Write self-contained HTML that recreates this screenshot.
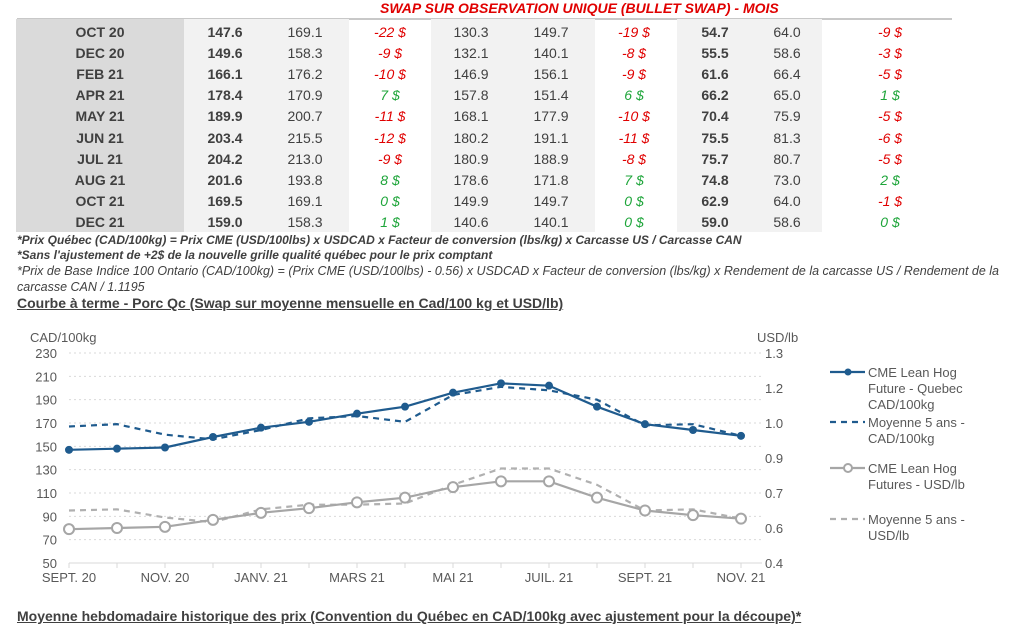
<!DOCTYPE html>
<html><head><meta charset="utf-8">
<style>
body{margin:0;width:1024px;height:634px;background:#fff;overflow:hidden;position:relative;font-family:"Liberation Sans Narrow","Liberation Sans",sans-serif;font-stretch:condensed;color:#404040}
.abs{position:absolute}
.title{left:380px;top:0;font-size:14px;font-weight:bold;font-style:italic;color:#e00000;white-space:nowrap}
.bg{position:absolute;top:19px;height:213px}
.row{position:absolute;left:0;width:1024px;height:21px;font-size:14px;line-height:21px}
.row span{position:absolute;transform:translateX(-50%);white-space:nowrap}
.b{font-weight:bold}
.r{color:#e00000;font-style:italic}
.g{color:#1ea53a;font-style:italic}
.note{position:absolute;left:17px;font-size:12.5px;font-style:italic;white-space:nowrap;color:#404040}
.h{position:absolute;left:17px;font-size:14px;font-weight:bold;text-decoration:underline;color:#404040;white-space:nowrap}
svg text{font-family:"Liberation Sans Narrow","Liberation Sans",sans-serif}
</style></head><body>
<div class="abs title">SWAP SUR OBSERVATION UNIQUE (BULLET SWAP) - MOIS</div>
<div class="abs" style="left:17px;top:18px;width:935px;height:2px;background:#c8c8c8"></div>
<div class="bg" style="left:16px;width:168px;background:#dadada"></div>
<div class="bg" style="left:184px;width:165px;background:#f2f2f2"></div>
<div class="bg" style="left:431px;width:164px;background:#f2f2f2"></div>
<div class="bg" style="left:677px;width:145px;background:#f2f2f2"></div>
<div id="tbl"></div>

<div class="note" style="top:233px;font-weight:bold;font-size:12px">*Prix Québec (CAD/100kg) = Prix CME (USD/100lbs) x USDCAD x Facteur de conversion (lbs/kg) x Carcasse US / Carcasse CAN</div>
<div class="note" style="top:248px;font-weight:bold;font-size:12px">*Sans l'ajustement de +2$ de la nouvelle grille qualité québec pour le prix comptant</div>
<div class="note" style="top:264px">*Prix de Base Indice 100 Ontario (CAD/100kg) = (Prix CME (USD/100lbs) - 0.56) x USDCAD x Facteur de conversion (lbs/kg) x Rendement de la carcasse US / Rendement de la</div>
<div class="note" style="top:280px">carcasse CAN / 1.1195</div>
<div class="h" style="top:295px">Courbe à terme - Porc Qc (Swap sur moyenne mensuelle en Cad/100 kg et USD/lb)</div>
<div class="h" style="top:608px">Moyenne hebdomadaire historique des prix (Convention du Québec en CAD/100kg avec ajustement pour la découpe)*</div>

<svg id="chart" class="abs" style="left:0;top:320px" width="1024" height="270"></svg>

<script>
// table data
const months=["OCT 20","DEC 20","FEB 21","APR 21","MAY 21","JUN 21","JUL 21","AUG 21","OCT 21","DEC 21"];
const qcSwap=["147.6","149.6","166.1","178.4","189.9","203.4","204.2","201.6","169.5","159.0"];
const qcAvg=["169.1","158.3","176.2","170.9","200.7","215.5","213.0","193.8","169.1","158.3"];
const qcDiff=[-22,-9,-10,7,-11,-12,-9,8,0,1];
const onSwap=["130.3","132.1","146.9","157.8","168.1","180.2","180.9","178.6","149.9","140.6"];
const onAvg=["149.7","140.1","156.1","151.4","177.9","191.1","188.9","171.8","149.7","140.1"];
const onDiff=[-19,-8,-9,6,-10,-11,-8,7,0,0];
const usSwap=["54.7","55.5","61.6","66.2","70.4","75.5","75.7","74.8","62.9","59.0"];
const usAvg=["64.0","58.6","66.4","65.0","75.9","81.3","80.7","73.0","64.0","58.6"];
const usDiff=[-9,-3,-5,1,-5,-6,-5,2,-1,0];

const tbl=document.getElementById('tbl');
const colX=[100,225,305,390,471,551,634,715,787,890];
months.forEach((m,i)=>{
  const row=document.createElement('div');
  row.className='row';
  row.style.top=(22+i*21.1)+'px';
  
  
  const vals=[[m,'b'],[qcSwap[i],'b'],[qcAvg[i],''],[qcDiff[i]+' $',qcDiff[i]<0?'r':'g'],[onSwap[i],''],[onAvg[i],''],[onDiff[i]+' $',onDiff[i]<0?'r':'g'],[usSwap[i],'b'],[usAvg[i],''],[usDiff[i]+' $',usDiff[i]<0?'r':'g']];
  vals.forEach((v,j)=>{
    const s=document.createElement('span');
    s.textContent=v[0];
    if(v[1])s.className=v[1];
    s.style.left=colX[j]+'px';
    
    
    row.appendChild(s);
  });
  tbl.appendChild(row);
});

// chart data
const xLabels=["SEPT. 20","NOV. 20","JANV. 21","MARS 21","MAI 21","JUIL. 21","SEPT. 21","NOV. 21"];
const leftTicks=[50,70,90,110,130,150,170,190,210,230];
const rightTickLabels=["0.4","0.6","0.7","0.9","1.0","1.2","1.3"];
const cadFuture=[147,148,149,158,166,171,178,184,196,204,202,184,169,164,159];
const cadAvg5=[167,169,160,156,164,174,176,171,194,201,198,190,168,169,159];
const usdFuture=[0.545,0.55,0.555,0.585,0.615,0.635,0.66,0.68,0.725,0.75,0.75,0.68,0.625,0.605,0.59];
const usdAvg5=[0.625,0.63,0.595,0.575,0.63,0.65,0.65,0.655,0.735,0.805,0.805,0.735,0.625,0.63,0.59];

const svg=document.getElementById('chart');
const NS='http://www.w3.org/2000/svg';
const X0=69,X1=741,Y0=243,Y1=33;
const n=cadFuture.length;
const xs=i=>X0+(X1-X0)*i/(n-1);
const yL=v=>Y0-(v-50)/(230-50)*(Y0-Y1);
const yR=v=>Y0-(v-0.4)/(1.3-0.4)*(Y0-Y1);
function el(t,a){const e=document.createElementNS(NS,t);for(const k in a)e.setAttribute(k,a[k]);svg.appendChild(e);return e;}

leftTicks.forEach(v=>{
  if(v>50){const g=el('line',{x1:X0,x2:762,y1:yL(v),y2:yL(v),stroke:'#d9d9d9','stroke-dasharray':'2,3'});
  
  }
  const t=el('text',{x:57,y:yL(v)+5,'text-anchor':'end','font-size':13,fill:'#595959'});
  t.textContent=v;
  
  
});
rightTickLabels.forEach((s,i)=>{
  const t=el('text',{x:765,y:Y0-i*(Y0-Y1)/6+5,'font-size':13,fill:'#595959'});
  t.textContent=s;
  
  
});
const ax=el('line',{x1:X0,x2:762,y1:Y0,y2:Y0,stroke:'#d9d9d9'});


for(let i=0;i<n;i++){const tk=el('line',{x1:xs(i),x2:xs(i),y1:Y0,y2:Y0+5,stroke:'#d9d9d9'});

}
xLabels.forEach((s,i)=>{
  const t=el('text',{x:xs(i*2),y:Y0+19,'text-anchor':'middle','font-size':13,fill:'#595959'});
  t.textContent=s;
  
  
});
let t1=el('text',{x:30,y:22,'font-size':13,fill:'#595959'});t1.textContent='CAD/100kg';


let t2=el('text',{x:757,y:22,'font-size':13,fill:'#595959'});t2.textContent='USD/lb';



function series(arr,yf,color,dash,marker,name){
  const p=el('polyline',{points:arr.map((v,i)=>xs(i)+','+yf(v)).join(' '),fill:'none',stroke:color,'stroke-width':2.2,'stroke-dasharray':dash||'none'});
  
  
  if(marker)arr.forEach((v,i)=>{
    const c=marker==='dot'?el('circle',{cx:xs(i),cy:yf(v),r:4,fill:color}):el('circle',{cx:xs(i),cy:yf(v),r:5,fill:'#fff',stroke:color,'stroke-width':2});
    
    
  });
}
const BLUE='#1f5b8e',GRAY='#a6a6a6';
series(usdAvg5,yR,'#b0b0b0','6,5',null,'usd-5yr-avg-line');
series(usdFuture,yR,GRAY,null,'ring','usd-future-line');
series(cadAvg5,yL,BLUE,'6,5',null,'cad-5yr-avg-line');
series(cadFuture,yL,BLUE,null,'dot','cad-future-line');

// legend
const leg=[[52,BLUE,null,'dot',['CME Lean Hog','Future - Quebec','CAD/100kg']],[102,BLUE,'6,5',null,['Moyenne 5 ans -','CAD/100kg']],[148,GRAY,null,'ring',['CME Lean Hog','Futures - USD/lb']],[199,'#b0b0b0','6,5',null,['Moyenne 5 ans -','USD/lb']]];
leg.forEach(L=>{
  const l=el('line',{x1:830,x2:865,y1:L[0],y2:L[0],stroke:L[1],'stroke-width':2.2,'stroke-dasharray':L[2]||'none'});
  
  
  if(L[3]==='dot')el('circle',{cx:848,cy:L[0],r:3.5,fill:L[1]});
  if(L[3]==='ring')el('circle',{cx:848,cy:L[0],r:4,fill:'#fff',stroke:L[1],'stroke-width':2});
  L[4].forEach((s,k)=>{
    const t=el('text',{x:868,y:L[0]+5+k*16,'font-size':13,fill:'#595959'});
    t.textContent=s;
    
    
  });
});
</script>
</body></html>
